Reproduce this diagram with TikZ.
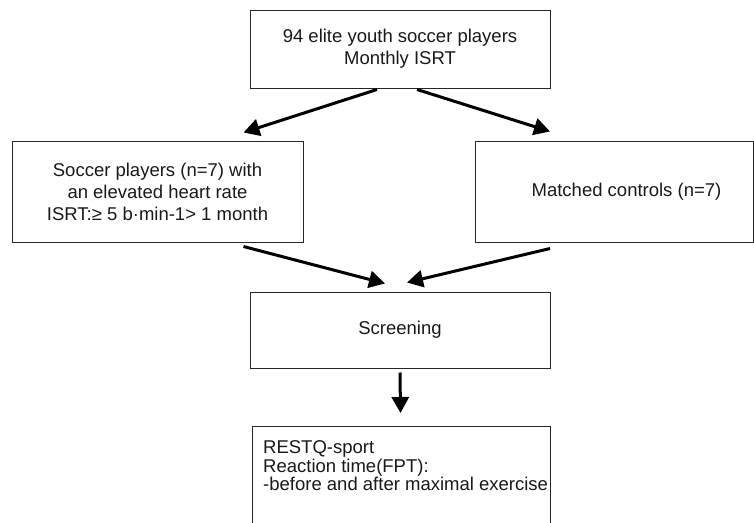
\documentclass[tikz,border=0pt]{standalone}
\usepackage{fontspec}
\setmainfont{Liberation Sans}
\usetikzlibrary{arrows.meta,calc}
\begin{document}
\begin{tikzpicture}[x=1pt,y=-1pt,
  every node/.style={font=\fontsize{18.5}{22}\selectfont, text=black!90},
  box/.style={draw=black!85, line width=1pt, inner sep=0pt, align=center},
  lbl/.style={inner sep=0pt, anchor=base west},
  arr/.style={line width=3pt, -{Triangle[length=16pt,width=17pt]}}
]
\useasboundingbox (0,0) rectangle (754,522);
\clip (0,0) rectangle (754,522);
% boxes
\node[box, minimum width=300pt, minimum height=78pt] (top) at (400,49)
  {94 elite youth soccer players\\Monthly ISRT};
\node[box, minimum width=291pt, minimum height=101pt] (left) at (157.5,191.5)
  {Soccer players (n=7) with\\an elevated heart rate\\ISRT:≥ 5 b·min-1> 1 month};
\node[box, minimum width=278pt, minimum height=101pt] (right) at (614,191.5) {};
\node[inner sep=0pt] (righttxt) at (626.5,191.5) {Matched controls (n=7)};
\node[box, minimum width=300pt, minimum height=76pt] (screen) at (400,330) {Screening};
\node[box, anchor=north west, minimum width=298pt, minimum height=130pt] (meas) at (252,426) {};
\node[lbl] (m1) at (263,453) {RESTQ-sport};
\node[lbl] (m2) at (263,472) {Reaction time(FPT):};
\node[lbl] (m3) at (263,490) {-before and after maximal exercise};
% connector end points
\coordinate (a1s) at ($(top.south)+(-23,1)$);
\coordinate (a1e) at ($(left.north)+(86,-8)$);
\coordinate (a2s) at ($(top.south)+(17,1)$);
\coordinate (a2e) at ($(right.north)+(-64,-9)$);
\coordinate (a3s) at ($(left.south)+(86,4)$);
\coordinate (a3e) at ($(screen.north)+(-15,-8)$);
\coordinate (a4s) at ($(right.south)+(-64,6)$);
\coordinate (a4e) at ($(screen.north)+(7,-9)$);
\coordinate (a5s) at ($(screen.south)+(0,4)$);
\coordinate (a5e) at ($(meas.north)+(-1,-13)$);
% connectors
\draw[arr] (a1s) -- (a1e);
\draw[arr] (a2s) -- (a2e);
\draw[arr] (a3s) -- (a3e);
\draw[arr] (a4s) -- (a4e);
\draw[arr] (a5s) -- (a5e);
\end{tikzpicture}
\end{document}
